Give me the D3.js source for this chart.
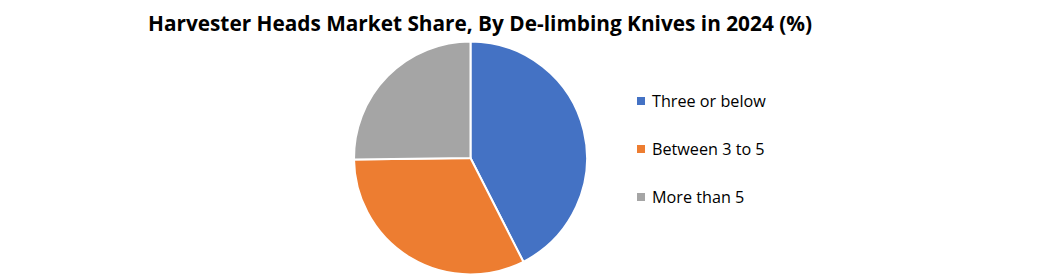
<!DOCTYPE html>
<html>
<head>
<meta charset="utf-8">
<script src="https://cdn.jsdelivr.net/npm/d3@7"></script>
<style>
  body { margin: 0; background: #fff; }
  svg { display: block; }
</style>
</head>
<body>
<div id="chart"></div>
<script>
var categories = ["Three or below", "Between 3 to 5", "More than 5"];
var shares = [42.5, 32.3, 25.2];
var colors = ["#4472c4", "#ed7d31", "#a5a5a5"];
var title = "Harvester Heads Market Share, By De-limbing Knives in 2024 (%)";

var width = 1047, height = 276;
var cx = 470.5, cy = 158, radius = 116.5;

var svg = d3.select("#chart")
  .append("svg")
    .attr("width", width)
    .attr("height", height);

svg.append("text")
  .attr("x", 148)
  .attr("y", 31)
  .attr("textLength", 664)
  .attr("lengthAdjust", "spacingAndGlyphs")
  .style("font-family", "'Liberation Sans Narrow', 'Open Sans', sans-serif")
  .style("font-weight", "bold")
  .style("font-size", "22px")
  .style("fill", "#000")
  .text(title);

var pie = d3.pie().sort(null);
var arc = d3.arc().innerRadius(0).outerRadius(radius);

svg.append("g")
    .attr("transform", "translate(" + cx + "," + cy + ")")
  .selectAll("path")
  .data(pie(shares))
  .enter()
  .append("path")
    .attr("d", arc)
    .style("fill", function(d, i) { return colors[i]; })
    .attr("stroke", "#fff")
    .attr("stroke-width", "2px");

var legend = svg.append("g")
  .selectAll("g")
  .data(categories)
  .enter()
  .append("g")
    .attr("transform", function(d, i) { return "translate(637," + (101 + i * 48) + ")"; });

legend.append("rect")
  .attr("x", 0)
  .attr("y", -4)
  .attr("width", 8)
  .attr("height", 8)
  .style("fill", function(d, i) { return colors[i]; });

legend.append("text")
  .attr("x", 15)
  .attr("y", 6)
  .style("font-family", "'Open Sans', sans-serif")
  .style("font-size", "16.2px")
  .style("fill", "#000")
  .text(function(d) { return d; });
</script>
</body>
</html>
